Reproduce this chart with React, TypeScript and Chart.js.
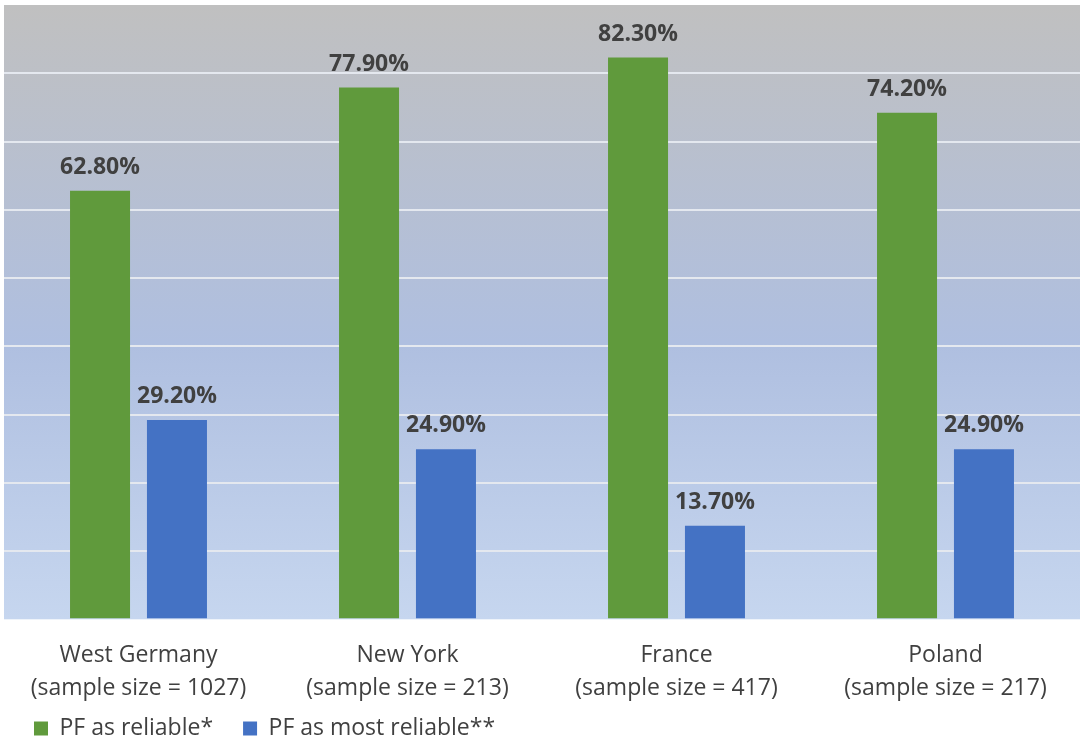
import { useEffect, useRef } from "react";
import { Chart, registerables } from "chart.js";
Chart.register(...registerables);

const CATEGORIES = [
  ["West Germany", "(sample size = 1027)"],
  ["New York", "(sample size = 213)"],
  ["France", "(sample size = 417)"],
  ["Poland", "(sample size = 217)"],
];
const RELIABLE = [62.8, 77.9, 82.3, 74.2];
const MOST_RELIABLE = [29.2, 24.9, 13.7, 24.9];
const SERIES_NAMES = ["PF as reliable*", "PF as most reliable**"];

const FONT = "'Open Sans', sans-serif";
const TEXT = "#404040";

const gradientBg = {
  id: "gradientBg",
  beforeDraw(chart: Chart) {
    const { ctx, chartArea: a } = chart;
    const g = ctx.createLinearGradient(0, a.top, 0, a.bottom);
    g.addColorStop(0, "#c0c0c0");
    g.addColorStop(0.55, "#afbfe0");
    g.addColorStop(1, "#c6d6ef");
    ctx.save();
    ctx.fillStyle = g;
    ctx.fillRect(a.left, a.top, a.right - a.left, a.bottom - a.top);
    ctx.restore();
  },
};

// legend padding is 30 on every side; pull the legend up so its empty top
// padding sits under the second line of the axis labels
const liftLegend = {
  id: "liftLegend",
  afterLayout(chart: Chart) {
    const lg = chart.legend;
    if (!lg) return;
    lg.top -= 29;
    lg.bottom -= 29;
  },
};

const valueLabels = {
  id: "valueLabels",
  afterDatasetsDraw(chart: Chart) {
    const { ctx } = chart;
    ctx.save();
    ctx.font = `bold 23px ${FONT}`;
    ctx.fillStyle = TEXT;
    ctx.textAlign = "center";
    ctx.textBaseline = "alphabetic";
    chart.data.datasets.forEach((ds, i) => {
      chart.getDatasetMeta(i).data.forEach((bar, j) => {
        const v = ds.data[j] as number;
        ctx.fillText(v.toFixed(2) + "%", bar.x, bar.y - 17);
      });
    });
    ctx.restore();
  },
};

export default function App() {
  const ref = useRef<HTMLCanvasElement>(null);

  useEffect(() => {
    document.body.style.margin = "0";
    if (!ref.current) return;
    const chart = new Chart(ref.current, {
      type: "bar",
      data: {
        labels: CATEGORIES,
        datasets: [
          { label: SERIES_NAMES[0], data: RELIABLE, backgroundColor: "#609a3c" },
          { label: SERIES_NAMES[1], data: MOST_RELIABLE, backgroundColor: "#4472c4" },
        ],
      },
      options: {
        animation: false,
        responsive: false,
        devicePixelRatio: 1,
        layout: { padding: { left: 4, right: 4, top: 5, bottom: -36 } },
        datasets: { bar: { categoryPercentage: 0.572, barPercentage: 0.78 } },
        scales: {
          x: {
            grid: { display: false },
            border: { display: false },
            ticks: {
              color: TEXT,
              font: { family: FONT, size: 23, lineHeight: 1.45 },
              padding: 11,
            },
          },
          y: {
            min: 0,
            max: 90,
            ticks: { display: false, stepSize: 10 },
            border: { display: false },
            grid: {
              drawTicks: false,
              color: (c) => (c.tick && (c.tick.value === 0 || c.tick.value === 90) ? "rgba(0,0,0,0)" : "#e4e8ef"),
              lineWidth: 2,
            },
          },
        },
        plugins: {
          legend: {
            position: "bottom",
            align: "start",
            labels: {
              boxWidth: 14,
              boxHeight: 14,
              padding: 30,
              color: TEXT,
              font: { family: FONT, size: 23 },
            },
          },
          tooltip: { enabled: false },
        },
      },
      plugins: [gradientBg, liftLegend, valueLabels],
    });
    return () => chart.destroy();
  }, []);

  return (
    <div style={{ width: 1084, height: 743, background: "#fff" }}>
      <canvas ref={ref} width={1084} height={743} />
    </div>
  );
}
